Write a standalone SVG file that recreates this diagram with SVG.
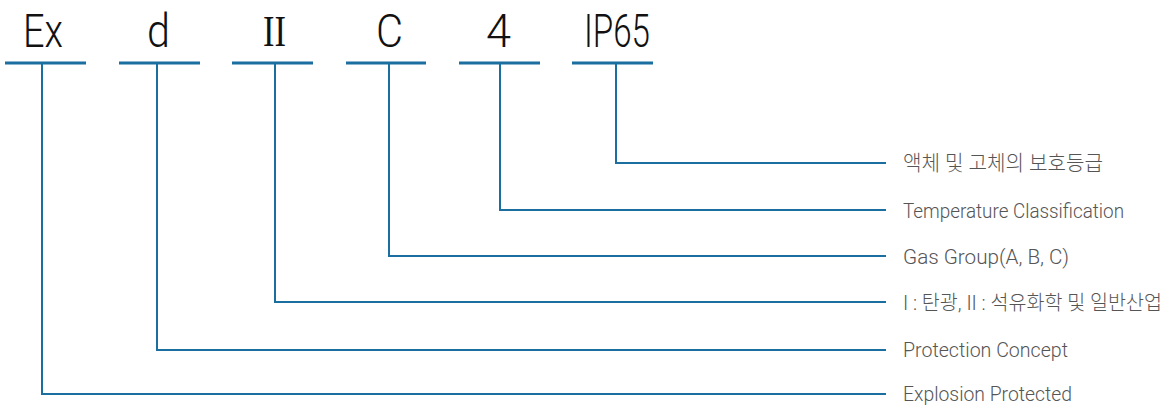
<svg xmlns="http://www.w3.org/2000/svg" width="1171" height="408" viewBox="0 0 1171 408">
<style>
.code{font-family:Roboto,"Liberation Sans","Noto Sans CJK KR",sans-serif;font-weight:300;font-size:46px;fill:#111;}
.rn{font-family:"Liberation Serif","DejaVu Serif",serif;font-weight:400;font-size:45px;}
.lbl{font-family:Roboto,"Liberation Sans","Noto Sans CJK KR",sans-serif;font-weight:300;font-size:21px;fill:#555;}
.ul{stroke:#1a6fa0;stroke-width:3;fill:none;}
.ln{stroke:#1a6fa0;stroke-width:2;fill:none;}
</style>
<rect width="1171" height="408" fill="#fff"/>
<g id="connectors">
<path class="ln" d="M42,64 V394 H886"/>
<path class="ln" d="M157,64 V350 H886"/>
<path class="ln" d="M275,64 V302 H886"/>
<path class="ln" d="M389,64 V256 H886"/>
<path class="ln" d="M500,64 V210 H886"/>
<path class="ln" d="M616,64 V163 H886"/>
</g>
<g id="node-ex"><line class="ul" x1="5" y1="63" x2="86" y2="63"/><text class="code" x="23" y="47" textLength="40" lengthAdjust="spacingAndGlyphs">Ex</text></g>
<g id="node-d"><line class="ul" x1="119" y1="63" x2="200" y2="63"/><text class="code" x="147" y="47" textLength="23" lengthAdjust="spacingAndGlyphs">d</text></g>
<g id="node-ii"><line class="ul" x1="232" y1="63" x2="313" y2="63"/><text class="code rn" x="263" y="46" textLength="23" lengthAdjust="spacingAndGlyphs">II</text></g>
<g id="node-c"><line class="ul" x1="346" y1="63" x2="426" y2="63"/><text class="code" x="376" y="47" textLength="27" lengthAdjust="spacingAndGlyphs">C</text></g>
<g id="node-4"><line class="ul" x1="459" y1="63" x2="540" y2="63"/><text class="code" x="486" y="47" textLength="25" lengthAdjust="spacingAndGlyphs">4</text></g>
<g id="node-ip65"><line class="ul" x1="572" y1="63" x2="653" y2="63"/><text class="code" x="584" y="47" textLength="66" lengthAdjust="spacingAndGlyphs">IP65</text></g>
<g id="label-ip"><text class="lbl" x="903" y="170" textLength="200" lengthAdjust="spacingAndGlyphs">액체 및 고체의 보호등급</text></g>
<g id="label-temp"><text class="lbl" x="903" y="218" textLength="221" lengthAdjust="spacingAndGlyphs">Temperature Classification</text></g>
<g id="label-gas"><text class="lbl" x="903" y="264" textLength="166" lengthAdjust="spacingAndGlyphs">Gas Group(A, B, C)</text></g>
<g id="label-group"><text class="lbl" x="903" y="310" textLength="259" lengthAdjust="spacingAndGlyphs" style="font-size:20px">I : 탄광, II : 석유화학 및 일반산업</text></g>
<g id="label-prot"><text class="lbl" x="903" y="357" textLength="165" lengthAdjust="spacingAndGlyphs">Protection Concept</text></g>
<g id="label-expl"><text class="lbl" x="903" y="401" textLength="169" lengthAdjust="spacingAndGlyphs">Explosion Protected</text></g>
</svg>
